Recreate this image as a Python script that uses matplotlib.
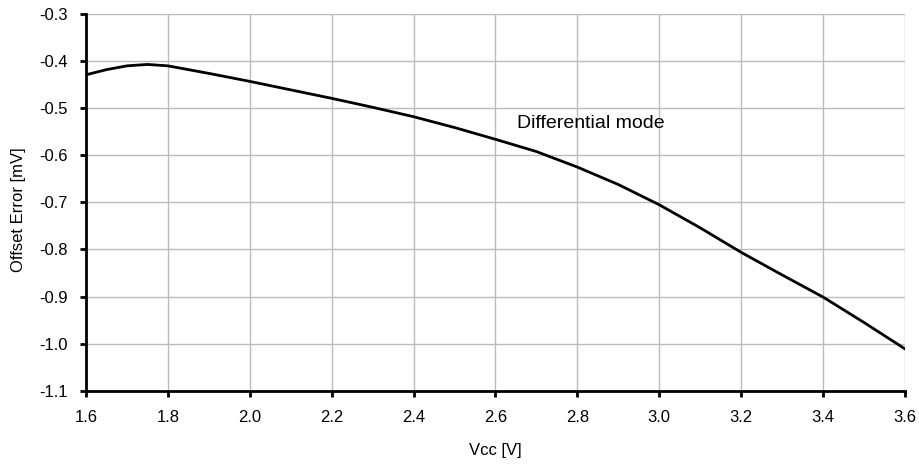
import matplotlib
matplotlib.use('Agg')
import matplotlib.pyplot as plt

plt.rcParams['font.family'] = ['Liberation Sans', 'DejaVu Sans']

# Offset error vs supply voltage, differential mode
vcc = [1.60, 1.65, 1.70, 1.75, 1.80, 1.90, 2.00, 2.10, 2.20, 2.30, 2.40, 2.50,
       2.60, 2.70, 2.80, 2.90, 3.00, 3.10, 3.20, 3.30, 3.40, 3.50, 3.60]
offset = [-0.429, -0.418, -0.410, -0.407, -0.410, -0.426, -0.443, -0.461, -0.479, -0.498,
          -0.518, -0.541, -0.566, -0.592, -0.625, -0.662, -0.705, -0.754, -0.806, -0.854,
          -0.901, -0.955, -1.011]

x_ticks = [1.6, 1.8, 2.0, 2.2, 2.4, 2.6, 2.8, 3.0, 3.2, 3.4, 3.6]
y_ticks = [-1.1, -1.0, -0.9, -0.8, -0.7, -0.6, -0.5, -0.4, -0.3]

fig = plt.figure(figsize=(9.2, 4.69), dpi=100)
ax = fig.add_axes([0.0935, 0.167, 0.890, 0.803])

ax.plot(vcc, offset, color='black', linewidth=2)

ax.set_xlim(1.6, 3.6)
ax.set_ylim(-1.1, -0.3)
ax.set_xticks(x_ticks)
ax.set_xticklabels(['%.1f' % v for v in x_ticks])
ax.set_yticks(y_ticks)
ax.set_yticklabels(['%.1f' % v for v in y_ticks])
ax.grid(True, color='#bcbcbc', linewidth=1)
ax.set_axisbelow(True)

ax.spines['top'].set_visible(False)
ax.spines['right'].set_visible(False)
ax.spines['left'].set_linewidth(2)
ax.spines['bottom'].set_linewidth(2)
ax.tick_params(axis='both', direction='out', length=4, width=2, labelsize=12)
ax.tick_params(axis='x', pad=10)
ax.tick_params(axis='y', pad=9)

ax.set_xlabel('Vcc [V]', fontsize=12)
ax.set_ylabel('Offset Error [mV]', fontsize=12)
ax.xaxis.set_label_coords(0.5, -0.14)
ax.yaxis.set_label_coords(-0.073, 0.48)

ax.text(2.652, -0.532, 'Differential mode', fontsize=14, va='center', ha='left')

fig.savefig('out.png', dpi=100)
